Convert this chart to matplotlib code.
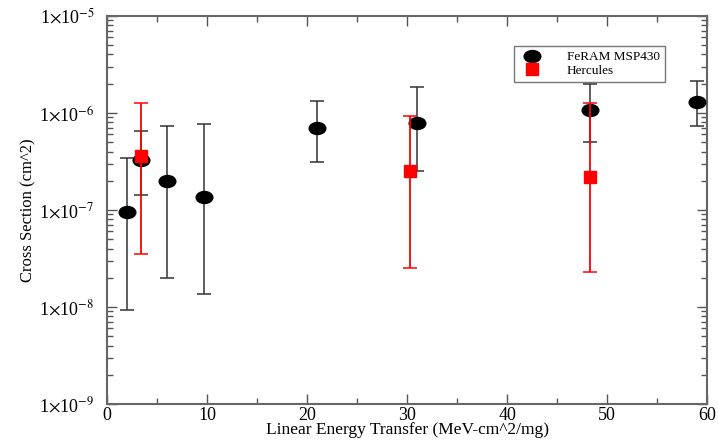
from matplotlib import pyplot as plt
from matplotlib.ticker import LogLocator, FixedLocator, NullFormatter
from matplotlib.path import Path
from matplotlib.lines import Line2D
import numpy as np

plt.rcParams["font.family"] = ["Liberation Serif", "DejaVu Serif"]
plt.rcParams["mathtext.fontset"] = "stix"

# FeRAM MSP430
feram_let = [2.0, 3.4, 6.0, 9.7, 21.0, 31.0, 48.3, 59.0]
feram_xs = [0.95e-7, 0.33e-6, 2.0e-7, 1.36e-7, 0.70e-6, 0.79e-6, 1.07e-6, 1.3e-6]
feram_hi = [0.34e-6, 0.65e-6, 0.73e-6, 0.77e-6, 1.33e-6, 1.85e-6, 1.99e-6, 2.14e-6]
feram_lo = [0.93e-8, 1.43e-7, 1.99e-8, 1.36e-8, 0.31e-6, 0.25e-6, 0.50e-6, 0.73e-6]

# Hercules
herc_let = [3.4, 30.3, 48.3]
herc_xs = [0.36e-6, 0.25e-6, 0.22e-6]
herc_hi = [1.27e-6, 0.93e-6, 1.27e-6]
herc_lo = [0.35e-7, 0.25e-7, 0.23e-7]

y_ticks = [1e-9, 1e-8, 1e-7, 1e-6, 1e-5]
y_labels = [r"1$\times$10$^{-9}$", r"1$\times$10$^{-8}$", r"1$\times$10$^{-7}$",
            r"1$\times$10$^{-6}$", r"1$\times$10$^{-5}$"]

# flattened circle, the original plot is a bit squashed vertically
circ = Path.unit_circle()
ellipse = Path(circ.vertices * np.array([1.0, 0.72]), circ.codes)

fig = plt.figure(figsize=(7.18, 4.41), dpi=100, facecolor="white")
ax = fig.add_axes([0.149, 0.084, 0.836, 0.880])

fx = np.array(feram_xs)
ax.errorbar(
    feram_let, fx,
    yerr=[fx - np.array(feram_lo), np.array(feram_hi) - fx],
    fmt="none", ecolor="#333333", elinewidth=1.1,
    capsize=5, capthick=1.1, zorder=2
)
ax.plot(feram_let, fx, linestyle="none", marker=ellipse, color="black",
        markersize=12, zorder=3)

hx = np.array(herc_xs)
ax.errorbar(
    herc_let, hx,
    yerr=[hx - np.array(herc_lo), np.array(herc_hi) - hx],
    fmt="none", ecolor="red", elinewidth=1.3,
    capsize=5, capthick=1.1, zorder=4
)
ax.plot(herc_let, hx, linestyle="none", marker="s", color="red",
        markersize=9, zorder=5)

ax.set_yscale("log")
ax.set_xlim(0, 60)
ax.set_ylim(1e-9, 1e-5)
ax.set_yticks(y_ticks)
ax.set_yticklabels(y_labels)
ax.yaxis.set_minor_locator(LogLocator(base=10, subs=np.arange(2, 10), numticks=20))
ax.yaxis.set_minor_formatter(NullFormatter())
ax.set_xticks(np.arange(0, 61, 10))
ax.xaxis.set_minor_locator(FixedLocator(np.arange(5, 60, 10)))

ax.tick_params(which="both", direction="in", top=True, right=True, colors="#555555",
               labelcolor="black", labelsize=13)
ax.tick_params(which="major", length=7, width=1)
ax.tick_params(which="minor", length=4, width=1)
ax.tick_params(axis="y", which="major", pad=9)
ax.tick_params(axis="x", which="major", pad=2)
for s in ax.spines.values():
    s.set_color("#666666")
    s.set_linewidth(1.5)

ax.set_xlabel("Linear Energy Transfer (MeV-cm^2/mg)", fontsize=12.5, labelpad=-1)
ax.set_ylabel("Cross Section (cm^2)", fontsize=12, labelpad=2)

handles = [
    Line2D([], [], linestyle="none", marker=ellipse, color="black", markersize=12),
    Line2D([], [], linestyle="none", marker="s", color="red", markersize=9),
]
leg = ax.legend(handles, ["FeRAM MSP430", "Hercules"], loc="upper left",
                bbox_to_anchor=(0.667, 0.94), fontsize=9.5,
                frameon=True, fancybox=False, edgecolor="#555555",
                handletextpad=1.6, borderpad=0.4, labelspacing=0.1)
leg.get_frame().set_linewidth(1.0)

plt.savefig("out.png", dpi=100)
